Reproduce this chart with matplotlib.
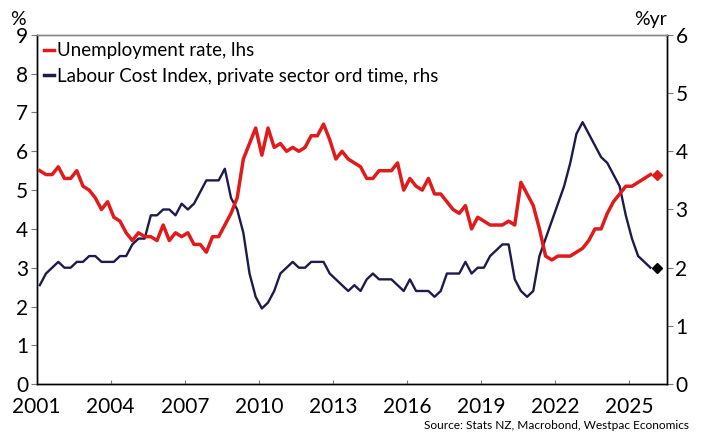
import matplotlib.pyplot as plt
from matplotlib.lines import Line2D
import pandas as pd

plt.rcParams['font.family'] = ['Lato', 'DejaVu Sans']

# quarterly, 2001Q1 - 2025Q4
quarters = pd.period_range('2001Q1', '2025Q4', freq='Q')

unemployment = [
    5.5, 5.4, 5.4, 5.6, 5.3, 5.3, 5.5, 5.1, 5.0, 4.8,
    4.5, 4.7, 4.3, 4.2, 3.9, 3.7, 3.9, 3.8, 3.8, 3.7,
    4.1, 3.7, 3.9, 3.8, 3.9, 3.6, 3.6, 3.4, 3.8, 3.8,
    4.1, 4.4, 4.8, 5.8, 6.2, 6.6, 5.9, 6.6, 6.1, 6.2,
    6.0, 6.1, 6.0, 6.1, 6.4, 6.4, 6.7, 6.3, 5.8, 6.0,
    5.8, 5.7, 5.6, 5.3, 5.3, 5.5, 5.5, 5.5, 5.7, 5.0,
    5.3, 5.1, 5.0, 5.3, 4.9, 4.9, 4.7, 4.5, 4.4, 4.6,
    4.0, 4.3, 4.2, 4.1, 4.1, 4.1, 4.2, 4.1, 5.2, 4.9,
    4.6, 4.0, 3.3, 3.2, 3.3, 3.3, 3.3, 3.4, 3.5, 3.7,
    4.0, 4.0, 4.4, 4.7, 4.9, 5.1, 5.1, 5.2, 5.3, 5.4,
]

lci = [
    1.7, 1.9, 2.0, 2.1, 2.0, 2.0, 2.1, 2.1, 2.2, 2.2,
    2.1, 2.1, 2.1, 2.2, 2.2, 2.4, 2.5, 2.5, 2.9, 2.9,
    3.0, 3.0, 2.9, 3.1, 3.0, 3.1, 3.3, 3.5, 3.5, 3.5,
    3.7, 3.2, 3.0, 2.6, 1.9, 1.5, 1.3, 1.4, 1.6, 1.9,
    2.0, 2.1, 2.0, 2.0, 2.1, 2.1, 2.1, 1.9, 1.8, 1.7,
    1.6, 1.7, 1.6, 1.8, 1.9, 1.8, 1.8, 1.8, 1.7, 1.6,
    1.8, 1.6, 1.6, 1.6, 1.5, 1.6, 1.9, 1.9, 1.9, 2.1,
    1.9, 2.0, 2.0, 2.2, 2.3, 2.4, 2.4, 1.8, 1.6, 1.5,
    1.6, 2.2, 2.5, 2.8, 3.1, 3.4, 3.8, 4.3, 4.5, 4.3,
    4.1, 3.9, 3.8, 3.6, 3.4, 2.9, 2.5, 2.2, 2.1, 2.0,
]

year_ticks = [2001, 2004, 2007, 2010, 2013, 2016, 2019, 2022, 2025]

RED = '#e01b1b'
NAVY = '#1d1b4c'

# mid-quarter decimal years
t = [q.year + (q.quarter - 1) * 0.25 + 0.125 for q in quarters]

fig = plt.figure(figsize=(7.02, 4.36), dpi=100)
ax = fig.add_axes([0.0523, 0.119, 0.898, 0.801])
ax2 = ax.twinx()

ax.plot(t, unemployment, color=RED, lw=2.5, zorder=3)
ax2.plot(t, lci, color=NAVY, lw=1.7, zorder=2)

# end-point markers
ax.plot(t[-1] + 0.25, unemployment[-1], marker='D', ms=5, color=RED, zorder=4)
ax2.plot(t[-1] + 0.25, lci[-1], marker='D', ms=5, color='black', zorder=4)

ax.set_xlim(2001, 2026.55)
ax.set_ylim(0, 9)
ax2.set_ylim(0, 6)
ax.set_yticks(range(0, 10))
ax2.set_yticks(range(0, 7))
ax.set_xticks(year_ticks)
ax.set_xticklabels([str(y) for y in year_ticks])

# left axis on top of twin so the red line stays above the navy one
ax.set_zorder(ax2.get_zorder() + 1)
ax.patch.set_visible(False)

for a in (ax, ax2):
    a.spines['top'].set_color('#888888')
    a.spines['left'].set_color('black')
    a.spines['right'].set_color('black')
    a.spines['bottom'].set_color('black')
    for s in a.spines.values():
        s.set_linewidth(1.0)

ax.tick_params(axis='y', direction='out', length=4, color='#777777',
               labelsize=15, pad=2)
ax.tick_params(axis='x', direction='in', length=3, color='#777777',
               labelsize=15, pad=9)
ax2.tick_params(axis='y', direction='out', length=4, color='#777777',
                labelsize=15, pad=2)

fig.text(0.015, 0.935, '%', fontsize=14, ha='left', va='bottom')
fig.text(0.950, 0.935, '%yr', fontsize=14, ha='right', va='bottom')

handles = [Line2D([], [], color=RED, lw=2.5),
           Line2D([], [], color=NAVY, lw=2.5)]
labels = ['Unemployment rate, lhs',
          'Labour Cost Index, private sector ord time, rhs']
ax.legend(handles, labels, loc='upper left', bbox_to_anchor=(0.0, 1.0),
          frameon=False, fontsize=13.5, handlelength=0.5, handletextpad=0.2,
          labelspacing=0.45, borderaxespad=0.2, borderpad=0.2)

fig.text(0.981, 0.012, 'Source: Stats NZ, Macrobond, Westpac Economics',
         fontsize=8.6, ha='right', va='bottom')

fig.savefig('out.png', dpi=100)
